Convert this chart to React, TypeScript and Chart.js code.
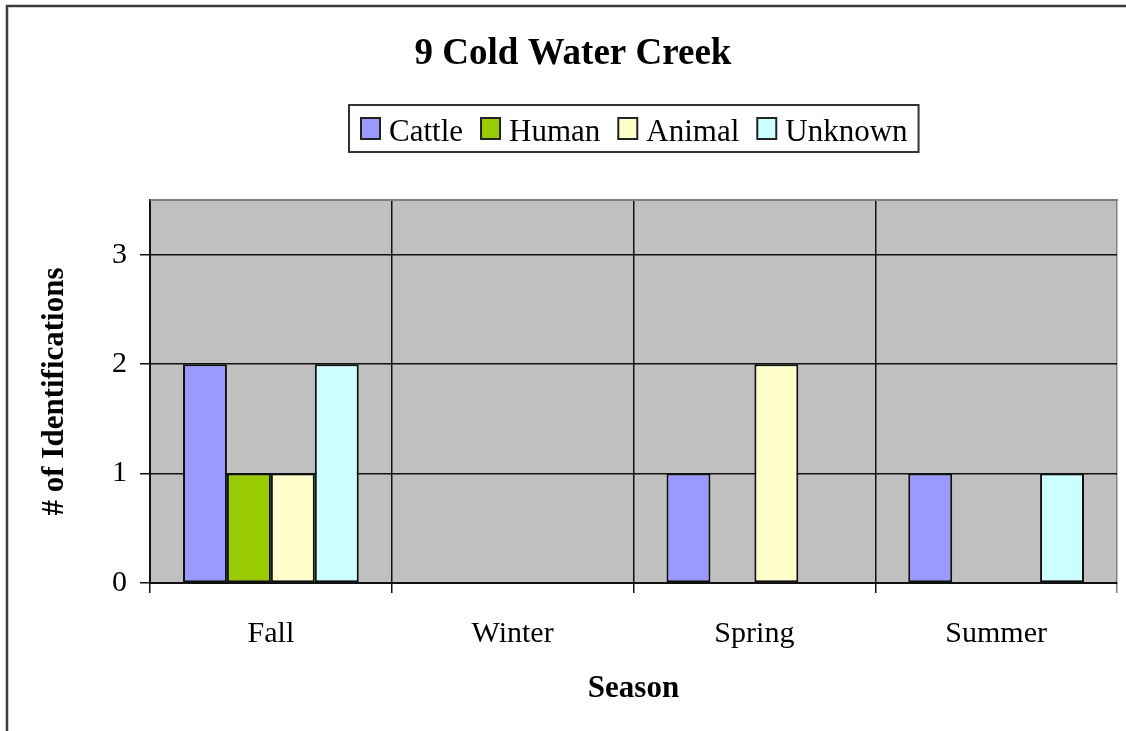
import React, { useEffect, useRef } from "react";
import { Chart, registerables } from "chart.js";

Chart.register(...registerables);

const chartTitle = "9 Cold Water Creek";
const categories = ["Fall", "Winter", "Spring", "Summer"];
const seriesNames = ["Cattle", "Human", "Animal", "Unknown"];
const cattle = [2, 0, 1, 1];
const human = [1, 0, 0, 0];
const animal = [1, 0, 2, 0];
const unknown = [2, 0, 0, 1];
const seriesColors = ["#9999FF", "#99CC00", "#FFFFCC", "#CCFFFF"];
const yMin = 0;
const yMax = 3.5;
const yStep = 1;
const xTitle = "Season";
const yTitle = "# of Identifications";

const SERIF = "'Liberation Serif', 'Times New Roman', serif";

const framePlugin = {
  id: "frame",
  beforeDraw(chart: any) {
    const { ctx, chartArea: a, width, height } = chart;
    ctx.save();
    ctx.fillStyle = "#ffffff";
    ctx.fillRect(0, 0, width, height);
    ctx.strokeStyle = "#3c3c3c";
    ctx.lineWidth = 2.5;
    ctx.strokeRect(7, 6, width + 50, height + 50);
    ctx.fillStyle = "#C0C0C0";
    ctx.fillRect(a.left, a.top, a.right - a.left, a.bottom - a.top);
    ctx.restore();
  },
  afterDraw(chart: any) {
    const { ctx, chartArea: a } = chart;
    ctx.save();
    // top border of plot area
    ctx.strokeStyle = "#808080";
    ctx.lineWidth = 2;
    ctx.beginPath();
    ctx.moveTo(a.left, a.top);
    ctx.lineTo(a.right + 1, a.top);
    ctx.stroke();

    // title
    ctx.fillStyle = "#000";
    ctx.font = `bold 37px ${SERIF}`;
    ctx.textAlign = "center";
    ctx.textBaseline = "alphabetic";
    ctx.fillText(chartTitle, 573, 64);

    // legend
    ctx.font = `31px ${SERIF}`;
    const sq = 21;
    const gapText = 8;
    const gapItem = 17;
    const pad = 11;
    const items = chart.data.datasets.map((d: any) => ({
      label: d.label,
      color: d.backgroundColor,
      w: ctx.measureText(d.label).width,
    }));
    let content = 0;
    items.forEach((it: any, i: number) => {
      content += sq + gapText + it.w + (i < items.length - 1 ? gapItem : 0);
    });
    const cx = (a.left + a.right) / 2;
    const boxLeft = Math.round(cx - content / 2 - pad);
    const boxTop = 105;
    const boxH = 47;
    ctx.strokeStyle = "#333";
    ctx.lineWidth = 2;
    ctx.strokeRect(boxLeft, boxTop, content + pad * 2, boxH);
    let x = boxLeft + pad;
    const cy = boxTop + boxH / 2;
    ctx.textAlign = "left";
    items.forEach((it: any) => {
      ctx.fillStyle = it.color;
      ctx.fillRect(x + 1, cy - sq / 2, sq - 2, sq);
      ctx.strokeStyle = "#222";
      ctx.lineWidth = 2;
      ctx.strokeRect(x + 1, cy - sq / 2, sq - 2, sq);
      ctx.fillStyle = "#000";
      ctx.fillText(it.label, x + sq + gapText, 141);
      x += sq + gapText + it.w + gapItem;
    });
    ctx.restore();
  },
};

export default function App() {
  const ref = useRef<HTMLCanvasElement | null>(null);

  useEffect(() => {
    if (!ref.current) return;
    const values = [cattle, human, animal, unknown];
    const chart = new Chart(ref.current, {
      type: "bar",
      data: {
        labels: categories,
        datasets: seriesNames.map((name, i) => ({
          label: name,
          data: values[i],
          backgroundColor: seriesColors[i],
          borderColor: "#111",
          borderWidth: (c: any) => (c.raw === 0 ? 0 : 2),
          borderSkipped: false,
          categoryPercentage: 0.727,
          barPercentage: 1,
        })),
      },
      options: {
        responsive: false,
        animation: false,
        events: [],
        layout: { padding: { top: 200, left: 0, right: 9, bottom: 0 } },
        plugins: {
          legend: { display: false },
          title: { display: false },
          tooltip: { enabled: false },
        },
        scales: {
          x: {
            afterFit: (s: any) => {
              s.height = 148;
            },
            grid: {
              offset: true,
              color: (c: any) => (c.type === "tick" ? "#111" : "#808080"),
              lineWidth: 1.5,
              tickLength: 10,
            },
            border: { color: "#111", width: 2 },
            ticks: {
              color: "#000",
              padding: 23,
              font: { family: SERIF, size: 30 },
            },
            title: {
              display: true,
              text: xTitle,
              color: "#000",
              font: { family: SERIF, size: 31, weight: "bold" },
              padding: { top: 0, bottom: 23 },
            },
          },
          y: {
            min: yMin,
            max: yMax,
            afterFit: (s: any) => {
              s.width = 150;
            },
            grid: {
              color: "#111",
              lineWidth: 1.5,
              tickLength: 10,
            },
            border: { color: "#111", width: 2 },
            ticks: {
              stepSize: yStep,
              includeBounds: false,
              color: "#000",
              padding: 13,
              font: { family: SERIF, size: 30 },
            },
            title: {
              display: true,
              text: yTitle,
              color: "#000",
              font: { family: SERIF, size: 31, weight: "bold" },
              padding: { top: 36, bottom: 0 },
            },
          },
        },
      },
      plugins: [framePlugin],
    } as any);
    return () => chart.destroy();
  }, []);

  return (
    <div style={{ position: "fixed", left: 0, top: 0, width: 1126, height: 731 }}>
      <canvas ref={ref} width={1126} height={731} style={{ display: "block" }} />
    </div>
  );
}
